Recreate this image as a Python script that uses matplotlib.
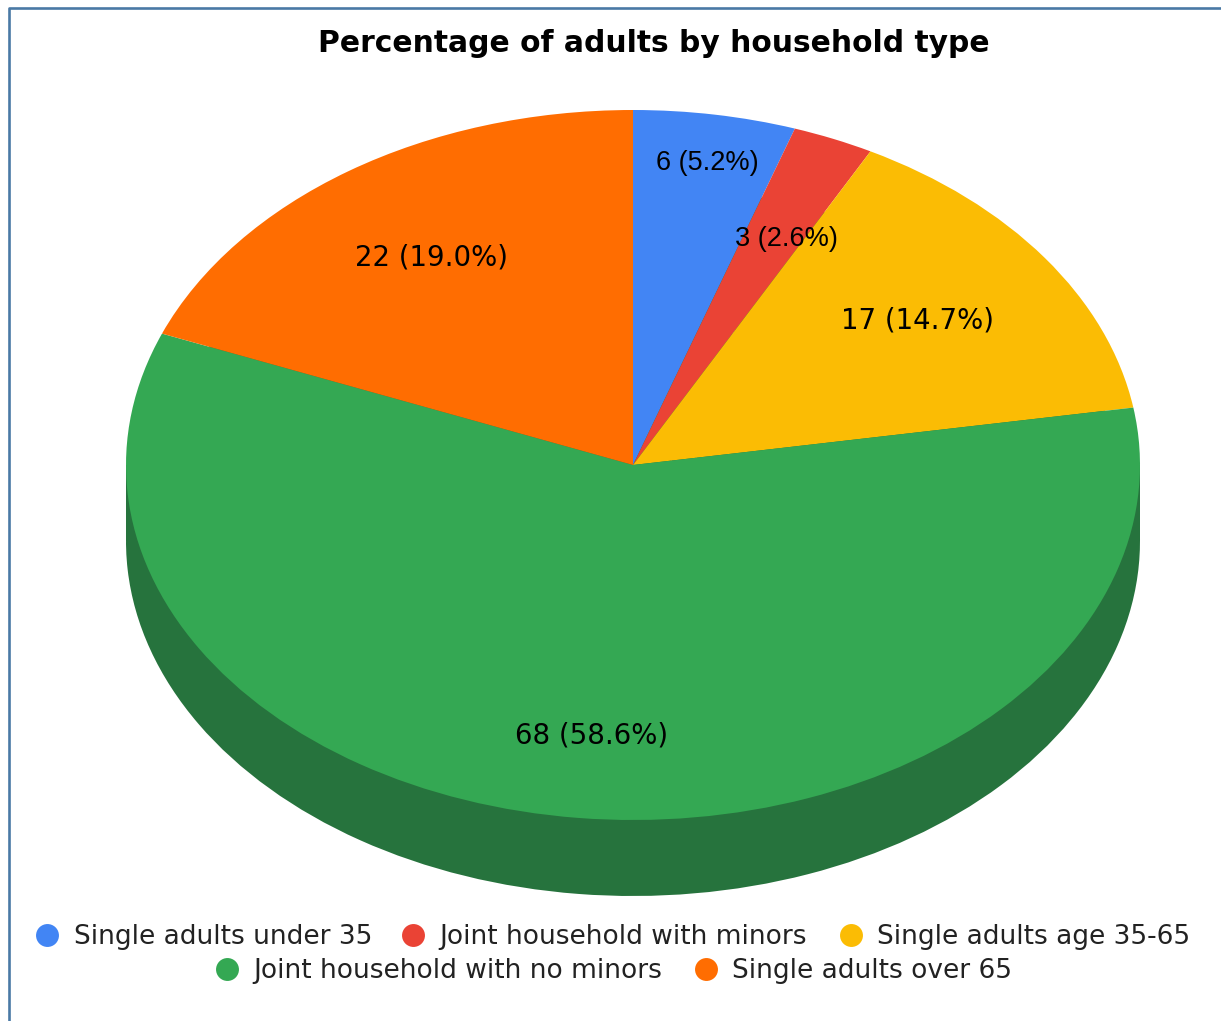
import numpy as np
import matplotlib
matplotlib.use("Agg")
import matplotlib.pyplot as plt
from matplotlib.lines import Line2D
from matplotlib.patches import Rectangle

categories = ["Single adults under 35", "Joint household with minors", "Single adults age 35-65",
              "Joint household with no minors", "Single adults over 65"]
counts = [6, 3, 17, 68, 22]
percents = ["5.2%", "2.6%", "14.7%", "58.6%", "19.0%"]
colors = ["#4285f4", "#ea4335", "#fbbc04", "#34a853", "#ff6d01"]
side_color = "#26733d"

W, H = 1221, 1021
# pie geometry in pixels
pie_left, pie_right = 126, 1140
pie_top, pie_ry, depth = 110, 355, 76

# distance of each label from the centre, as a share of the radius
label_dist = [0.87, 0.70, 0.70, 0.765, 0.707]
# nudge in pixels after that
label_nudge = [(3, 3), (13, 2), (-4, 0), (0, 1), (0, 0)]
# the two small slices are set in a narrower face in the original
label_font = ["Liberation Sans", "Liberation Sans", "DejaVu Sans", "DejaVu Sans", "DejaVu Sans"]
label_size = [19.5, 19.5, 19.9, 19.9, 19.9]

# legend layout: marker x, text x, row y
legend_pos = [(47, 74, 935), (413, 439, 935), (851, 877, 935), (227, 253, 969), (706, 732, 969)]

fig = plt.figure(figsize=(W / 100, H / 100), dpi=100, facecolor="white")

# page border, left and top only
fig.add_artist(Line2D([8.5 / W, 8.5 / W, 1], [0, 1 - 8.5 / H, 1 - 8.5 / H],
                      transform=fig.transFigure, color="#4a79a5", lw=1.9))

ax_h = 2 * pie_ry + depth
ax = fig.add_axes([pie_left / W, 1 - (pie_top + ax_h) / H, (pie_right - pie_left) / W, ax_h / H])

d = depth / pie_ry

# side of the disc first, then the top
ax.pie(counts, colors=[side_color] * len(counts), startangle=90, counterclock=False,
       center=(0, -d), wedgeprops={"linewidth": 0})
ax.add_patch(Rectangle((-1, -d), 2, d, facecolor=side_color, edgecolor="none"))
wedges, _ = ax.pie(counts, colors=colors, startangle=90, counterclock=False,
                   wedgeprops={"linewidth": 0})

# stretch the circle into the tilted ellipse
ax.set_aspect("auto")
ax.set_xlim(-1, 1)
ax.set_ylim(-1 - d, 1)

for w, n, p, r, (nx, ny), fam, size in zip(wedges, counts, percents, label_dist, label_nudge,
                                           label_font, label_size):
    mid = np.deg2rad((w.theta1 + w.theta2) / 2)
    ax.annotate(f"{n} ({p})", (r * np.cos(mid), r * np.sin(mid)), xytext=(nx, -ny),
                textcoords="offset pixels", ha="center", va="center",
                fontsize=size, color="black", family=fam)

fig.text(653.5 / W, 1 - 43 / H, "Percentage of adults by household type", ha="center", va="center",
         fontsize=21.4, fontweight="bold", color="black", family="DejaVu Sans")

# legend, two centred rows
for name, c, (mx, tx, y) in zip(categories, colors, legend_pos):
    fig.add_artist(Line2D([mx / W], [1 - y / H], transform=fig.transFigure, marker="o",
                          markersize=16.5, color=c, markeredgewidth=0, linestyle="none"))
    fig.text(tx / W, 1 - (y - 1.5) / H, name, ha="left", va="center_baseline",
             fontsize=19.0, color="#222222", family="DejaVu Sans")

fig.savefig("out.png", dpi=100, facecolor="white")
